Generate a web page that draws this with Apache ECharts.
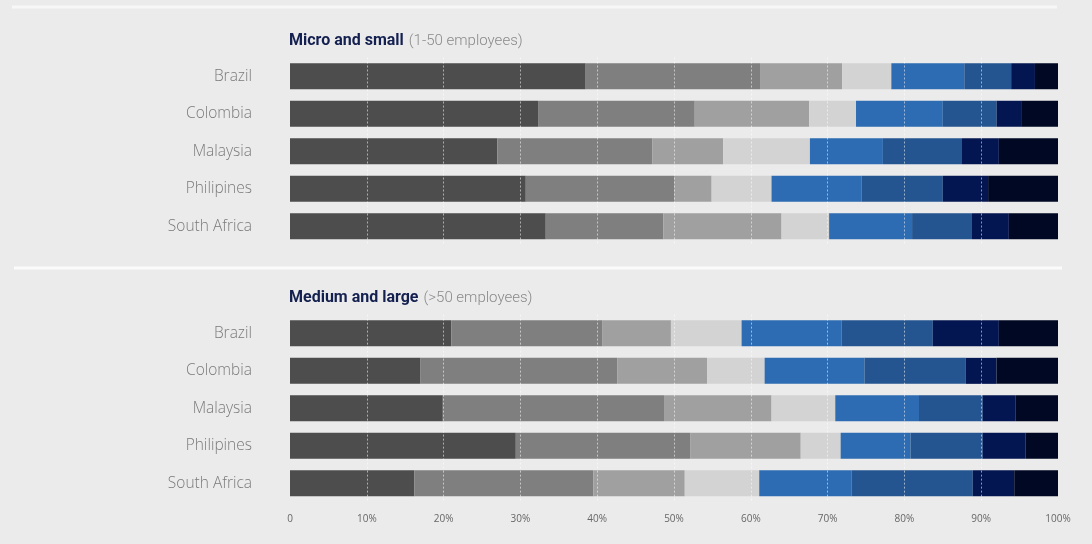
<!DOCTYPE html>
<html>
<head>
<meta charset="utf-8">
<style>
  html, body { margin: 0; padding: 0; background: #ebebeb; }
  #chart { width: 1092px; height: 544px; }
</style>
<script src="https://cdn.jsdelivr.net/npm/echarts@6/dist/echarts.min.js"></script>
</head>
<body>
<div id="chart"></div>
<script>
// Countries, top to bottom
const countries = ['Brazil', 'Colombia', 'Malaysia', 'Philipines', 'South Africa'];

// Share of firms (%) in each of the eight response bands, per country
// Micro and small (1-50 employees)
const smallBand1 = [38.5, 32.3, 27.0, 30.7, 33.3];
const smallBand2 = [22.7, 20.4, 20.2, 19.3, 15.3];
const smallBand3 = [10.7, 14.9, 9.2, 4.9, 15.4];
const smallBand4 = [6.4, 6.1, 11.3, 7.8, 6.2];
const smallBand5 = [9.5, 11.3, 9.5, 11.7, 10.8];
const smallBand6 = [6.1, 7.0, 10.3, 10.6, 7.8];
const smallBand7 = [3.1, 3.2, 4.8, 5.9, 4.8];
const smallBand8 = [3.0, 4.8, 7.7, 9.1, 6.4];

// Medium and large (>50 employees)
const largeBand1 = [21.0, 17.0, 19.9, 29.4, 16.2];
const largeBand2 = [19.7, 25.6, 28.8, 22.7, 23.3];
const largeBand3 = [8.9, 11.7, 14.0, 14.4, 11.9];
const largeBand4 = [9.2, 7.5, 8.3, 5.2, 9.7];
const largeBand5 = [13.0, 13.0, 10.9, 9.1, 12.0];
const largeBand6 = [11.9, 13.2, 8.3, 9.4, 15.8];
const largeBand7 = [8.6, 4.0, 4.3, 5.6, 5.4];
const largeBand8 = [7.7, 8.0, 5.5, 4.2, 5.7];

// Axis ticks (percent) and the guide lines drawn across the bars
const axisTicks = [0, 10, 20, 30, 40, 50, 60, 70, 80, 90, 100];
const guideTicks = [10, 20, 30, 40, 50, 60, 70, 80, 90];

const smallBands = [smallBand1, smallBand2, smallBand3, smallBand4, smallBand5, smallBand6, smallBand7, smallBand8];
const largeBands = [largeBand1, largeBand2, largeBand3, largeBand4, largeBand5, largeBand6, largeBand7, largeBand8];

const bandColors = ['#4d4d4d', '#7f7f7f', '#a0a0a0', '#d3d3d3', '#2d6bb2', '#245590', '#041651', '#010823'];

const labelFont = '"Open Sans", "Liberation Sans", sans-serif';

function makeSeries(bands, gridIndex, stackName) {
  return bands.map((vals, i) => {
    const s = {
      type: 'bar',
      name: stackName + ' ' + (i + 1),
      stack: stackName,
      xAxisIndex: gridIndex,
      yAxisIndex: gridIndex,
      barWidth: 26,
      data: vals,
      itemStyle: { color: bandColors[i] },
      silent: true,
      animation: false
    };
    if (i === bands.length - 1) {
      s.markLine = {
        silent: true,
        symbol: 'none',
        animation: false,
        label: { show: false },
        lineStyle: { color: 'rgba(255,255,255,0.55)', type: [2, 2], width: 1 },
        data: guideTicks.map(v => ({ xAxis: v }))
      };
    }
    return s;
  });
}

function makeXAxis(gridIndex, showLabels) {
  return {
    type: 'value',
    gridIndex: gridIndex,
    min: 0,
    max: 100,
    interval: 10,
    axisLine: { show: false },
    axisTick: { show: false },
    splitLine: { show: false },
    axisLabel: {
      show: showLabels,
      color: '#666',
      fontSize: 10,
      fontFamily: labelFont,
      margin: 12,
      formatter: v => axisTicks.indexOf(v) === 0 ? '0' : v + '%'
    }
  };
}

function makeYAxis(gridIndex) {
  return {
    type: 'category',
    gridIndex: gridIndex,
    inverse: true,
    data: countries,
    axisLine: { show: false },
    axisTick: { show: false },
    splitLine: { show: false },
    axisLabel: {
      color: '#7a7a7a',
      fontSize: 15.5,
      fontWeight: 300,
      fontFamily: labelFont,
      margin: 38
    }
  };
}

const chart = echarts.init(document.getElementById('chart'), null, { renderer: 'canvas' });

const titleFont = '"Roboto", "Liberation Sans", sans-serif';
const titleRich = {
  b: { fontFamily: titleFont, fontWeight: 'bold', fontSize: 16, color: '#14204f' },
  l: { fontFamily: titleFont, fontWeight: 300, fontSize: 15, color: '#8a8a8a' }
};

chart.setOption({
  backgroundColor: '#ebebeb',
  animation: false,
  title: [
    { text: '{b|Micro and small} {l|(1-50 employees)}', left: 289, top: 32, padding: 0, textStyle: { fontWeight: 'normal', rich: titleRich } },
    { text: '{b|Medium and large} {l|(>50 employees)}', left: 289, top: 289, padding: 0, textStyle: { fontWeight: 'normal', rich: titleRich } }
  ],
  graphic: [
    { type: 'line', shape: { x1: 12, y1: 7, x2: 1057, y2: 7 }, style: { stroke: '#f7f7f7', lineWidth: 3 }, silent: true },
    { type: 'line', shape: { x1: 14, y1: 268, x2: 1062, y2: 268 }, style: { stroke: '#fbfbfb', lineWidth: 3 }, silent: true }
  ],
  grid: [
    { left: 290, right: 34, top: 57.5, height: 187.5 },
    { left: 290, right: 34, top: 314.6, height: 187.5 }
  ],
  xAxis: [makeXAxis(0, false), makeXAxis(1, true)],
  yAxis: [makeYAxis(0), makeYAxis(1)],
  series: makeSeries(smallBands, 0, 'small').concat(makeSeries(largeBands, 1, 'large'))
});
</script>
</body>
</html>
